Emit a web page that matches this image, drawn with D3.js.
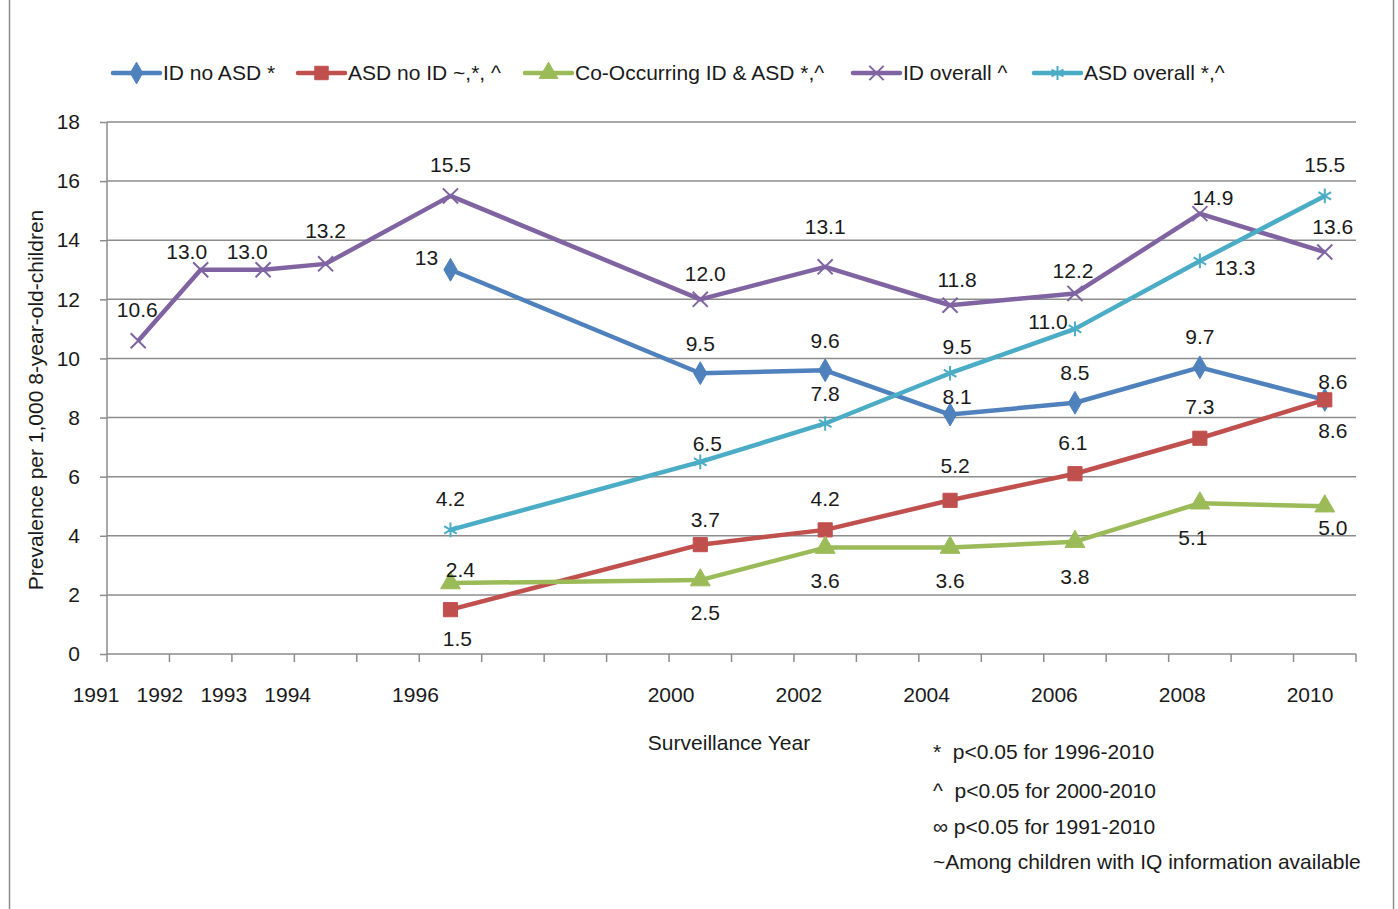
<!DOCTYPE html>
<html>
<head>
<meta charset="utf-8">
<script src="https://cdn.jsdelivr.net/npm/d3@7"></script>
<style>
  body { margin: 0; background: #fff; }
  text { font-family: "Liberation Sans", Arial, sans-serif; fill: #1a1a1a; font-size: 21px; }
</style>
</head>
<body>
<div id="chart"></div>
<script>
// category slots along the x axis (Excel category axis, blanks are empty slots)
const slots = ["1991", "1992", "1993", "1994", "", "1996", "", "", "", "2000",
               "", "2002", "", "2004", "", "2006", "", "2008", "", "2010"];
const years = ["1991", "1992", "1993", "1994", "1996", "2000", "2002", "2004", "2006", "2008", "2010"];

const idNoAsd    = [null, null, null, null, 13, 9.5, 9.6, 8.1, 8.5, 9.7, 8.6];
const asdNoId    = [null, null, null, null, 1.5, 3.7, 4.2, 5.2, 6.1, 7.3, 8.6];
const coOccur    = [null, null, null, null, 2.4, 2.5, 3.6, 3.6, 3.8, 5.1, 5.0];
const idOverall  = [10.6, 13.0, 13.0, 13.2, 15.5, 12.0, 13.1, 11.8, 12.2, 14.9, 13.6];
const asdOverall = [null, null, null, null, 4.2, 6.5, 7.8, 9.5, 11.0, 13.3, 15.5];

const yTicks = [0, 2, 4, 6, 8, 10, 12, 14, 16, 18];

const footnotes = [
    "*  p<0.05 for 1996-2010",
    "^  p<0.05 for 2000-2010",
    "\u221e p<0.05 for 1991-2010",
    "~Among children with IQ information available"
];

// label nudges [dx, dy] relative to the point, one per year
const nudges = {
    idNoAsd:    [null, null, null, null, [-24, -12], [0, -30], [0, -30], [7, -18], [0, -30], [0, -31], [8, -18]],
    asdNoId:    [null, null, null, null, [7, 29], [5, -25], [0, -31], [5, -35], [-2, -31], [0, -32], [8, 31]],
    coOccur:    [null, null, null, null, [10, -13], [5, 33], [0, 33], [0, 33], [0, 35], [-7, 34], [8, 21]],
    idOverall:  [[-1, -31], [-14, -18], [-16, -18], [0, -33], [0, -31], [5, -26], [0, -40], [7, -26], [-2, -23], [13, -16], [8, -25]],
    asdOverall: [null, null, null, null, [0, -31], [7, -18], [0, -30], [7, -27], [-27, -7], [35, 7], [0, -31]]
};

const series = [
    { key: "idNoAsd", name: "ID no ASD *", values: idNoAsd, color: "#4F81BD", symbol: d3.symbolDiamond, size: 150, fill: true, fmt: d3.format("") },
    { key: "asdNoId", name: "ASD no ID ~,*, ^", values: asdNoId, color: "#C0504D", symbol: d3.symbolSquare, size: 200, fill: true, fmt: d3.format(".1f") },
    { key: "coOccur", name: "Co-Occurring ID & ASD *,^", values: coOccur, color: "#9BBB59", symbol: d3.symbolTriangle, size: 170, fill: true, fmt: d3.format(".1f") },
    { key: "idOverall", name: "ID overall ^", values: idOverall, color: "#8064A2", symbol: d3.symbolX, size: 150, fill: false, fmt: d3.format(".1f") },
    { key: "asdOverall", name: "ASD overall *,^", values: asdOverall, color: "#4BACC6", symbol: d3.symbolAsterisk, size: 150, fill: false, fmt: d3.format(".1f") }
];

const W = 1398, H = 909;
const plot = { left: 107, right: 1356, top: 122, bottom: 654 };

var svg = d3.select("#chart")
    .append("svg")
    .attr("width", W)
    .attr("height", H);

// outer chart border
svg.append("rect")
    .attr("x", 9.5)
    .attr("y", -2)
    .attr("width", 1384)
    .attr("height", H + 4)
    .attr("fill", "none")
    .attr("stroke", "#8c8c8c")
    .attr("stroke-width", 1.5);

var x = d3.scaleBand()
    .domain(d3.range(slots.length))
    .range([plot.left, plot.right]);

// category labels sit on their own slightly wider spacing in the original
var xLabel = d3.scalePoint()
    .domain(d3.range(slots.length))
    .range([96, 1310]);

var y = d3.scaleLinear()
    .domain([0, 18])
    .range([plot.bottom, plot.top]);

const cx = i => x(slots.indexOf(years[i])) + x.bandwidth() / 2;

// y axis
var yAxis = svg.append("g")
    .attr("transform", `translate(${plot.left}, 0)`)
    .call(d3.axisLeft(y)
        .tickValues(yTicks)
        .tickSize(7)
        .tickPadding(20)
        .tickFormat(d3.format("d")));
yAxis.select(".domain").attr("stroke", "#8c8c8c").attr("stroke-width", 1.5).attr("d", `M0,${plot.top}V${plot.bottom}`);
yAxis.selectAll(".tick line").attr("stroke", "#8c8c8c").attr("stroke-width", 1.5);
yAxis.selectAll(".tick text").style("font-size", "21px").style("font-family", null).attr("fill", "#1a1a1a");

// horizontal gridlines
svg.append("g")
    .selectAll("line")
    .data(yTicks.slice(1))
    .join("line")
    .attr("x1", plot.left)
    .attr("x2", plot.right)
    .attr("y1", d => y(d))
    .attr("y2", d => y(d))
    .attr("stroke", "#8c8c8c")
    .attr("stroke-width", 1.5);

// x axis
var xAxis = svg.append("g")
    .attr("transform", `translate(0, ${plot.bottom})`);
xAxis.append("line")
    .attr("x1", plot.left)
    .attr("x2", plot.right)
    .attr("stroke", "#8c8c8c")
    .attr("stroke-width", 1.5);
xAxis.selectAll(".xtick")
    .data(d3.range(slots.length + 1))
    .join("line")
    .attr("class", "xtick")
    .attr("x1", d => plot.left + d * x.step())
    .attr("x2", d => plot.left + d * x.step())
    .attr("y1", 0)
    .attr("y2", 8)
    .attr("stroke", "#8c8c8c")
    .attr("stroke-width", 1.5);
xAxis.selectAll(".xlabel")
    .data(d3.range(slots.length).filter(i => slots[i] !== ""))
    .join("text")
    .attr("class", "xlabel")
    .attr("x", d => xLabel(d))
    .attr("y", 41)
    .attr("dy", "0.35em")
    .attr("text-anchor", "middle")
    .text(d => slots[d]);

// axis titles
svg.append("text")
    .attr("transform", "translate(36, 400) rotate(-90)")
    .attr("dy", "0.35em")
    .attr("text-anchor", "middle")
    .text("Prevalence per 1,000 8-year-old-children");

svg.append("text")
    .attr("x", 729)
    .attr("y", 743)
    .attr("dy", "0.35em")
    .attr("text-anchor", "middle")
    .text("Surveillance Year");

// lines
var line = d3.line()
    .x(d => cx(d.i))
    .y(d => y(d.v));

series.forEach(s => {
    var pts = s.values.map((v, i) => ({ v: v, i: i })).filter(d => d.v !== null);

    svg.append("path")
        .datum(pts)
        .attr("fill", "none")
        .attr("stroke", s.color)
        .attr("stroke-width", 4.5)
        .attr("stroke-linejoin", "round")
        .attr("d", line);

    svg.append("g")
        .selectAll("path")
        .data(pts)
        .join("path")
        .attr("transform", d => `translate(${cx(d.i)}, ${y(d.v)})`)
        .attr("d", d3.symbol().type(s.symbol).size(s.size))
        .attr("fill", s.fill ? s.color : "none")
        .attr("stroke", s.color)
        .attr("stroke-width", s.fill ? 1 : 2);
});

// data labels
series.forEach(s => {
    var pts = s.values.map((v, i) => ({ v: v, i: i })).filter(d => d.v !== null);
    svg.append("g")
        .selectAll("text")
        .data(pts)
        .join("text")
        .attr("x", d => cx(d.i) + nudges[s.key][d.i][0])
        .attr("y", d => y(d.v) + nudges[s.key][d.i][1])
        .attr("dy", "0.35em")
        .attr("text-anchor", "middle")
        .text(d => s.fmt(d.v));
});

// legend
const legendX = [113, 298, 525, 853, 1034];
var legend = svg.append("g")
    .selectAll("g")
    .data(series)
    .join("g")
    .attr("transform", (d, i) => `translate(${legendX[i]}, 73)`);

legend.append("line")
    .attr("x1", 0)
    .attr("x2", 47)
    .attr("stroke", d => d.color)
    .attr("stroke-width", 4.5)
    .attr("stroke-linecap", "round");

legend.append("path")
    .attr("transform", "translate(23.5, 0)")
    .attr("d", d => d3.symbol().type(d.symbol).size(d.size * 0.9)())
    .attr("fill", d => d.fill ? d.color : "none")
    .attr("stroke", d => d.color)
    .attr("stroke-width", d => d.fill ? 1 : 2);

legend.append("text")
    .attr("x", 50)
    .attr("dy", "0.35em")
    .text(d => d.name);

// footnotes
svg.append("g")
    .selectAll("text")
    .data(footnotes)
    .join("text")
    .attr("x", 933)
    .attr("y", (d, i) => [752, 791, 827, 862][i])
    .attr("dy", "0.35em")
    .style("white-space", "pre")
    .text(d => d);
</script>
</body>
</html>
